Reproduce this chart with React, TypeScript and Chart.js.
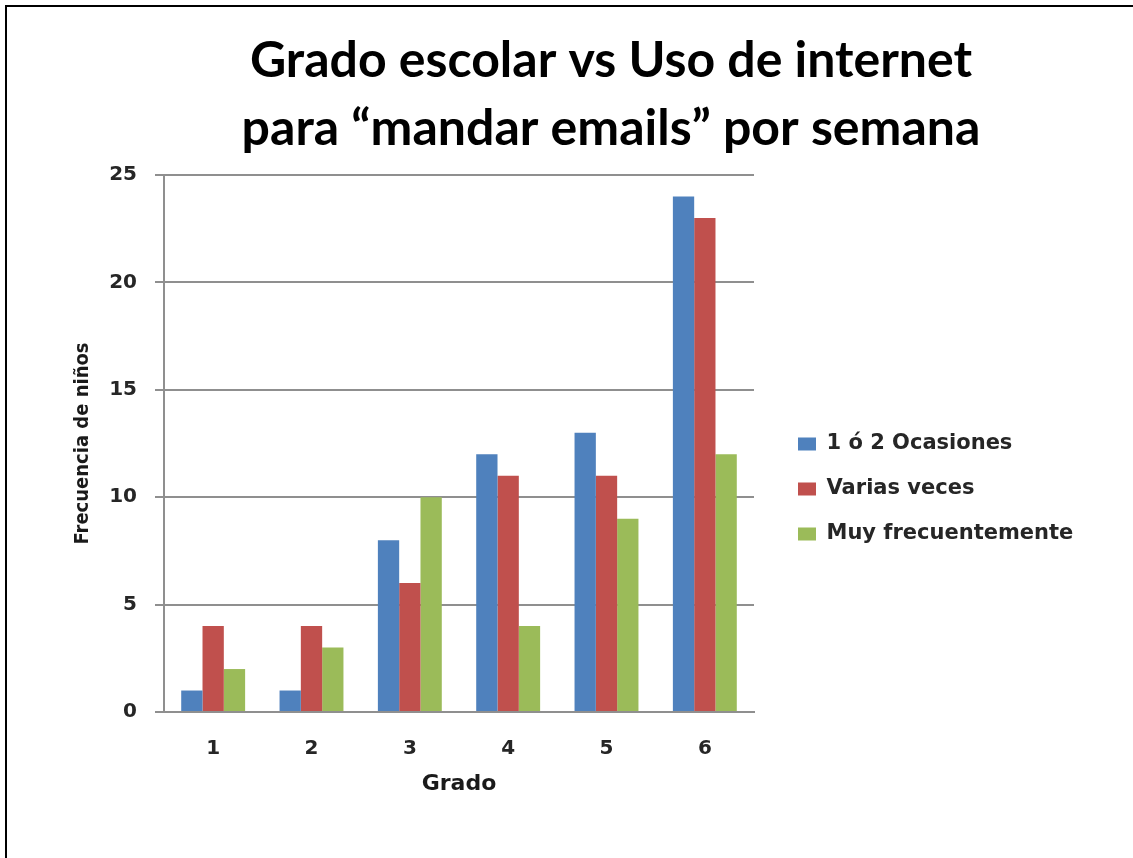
import React, { useEffect, useRef } from "react";
import { Chart, registerables } from "chart.js";

Chart.register(...registerables);

const categories = ["1", "2", "3", "4", "5", "6"];
const seriesNames = ["1 ó 2 Ocasiones", "Varias veces", "Muy frecuentemente"];
const ocasiones = [1, 1, 8, 12, 13, 24];
const variasVeces = [4, 4, 6, 11, 11, 23];
const muyFrecuente = [2, 3, 10, 4, 9, 12];
const seriesColors = ["#4F81BD", "#C0504D", "#9BBB59"];
const titleLines = ["Grado escolar vs Uso de internet", "para “mandar emails” por semana"];
const yTitle = "Frecuencia de niños";
const xTitle = "Grado";
const yMin = 0;
const yMax = 25;
const yStep = 5;

const W = 1133;
const H = 858;
const PLOT_RIGHT = 754;
const LEGEND_GAP = 20;
const LEGEND_FONT = { family: "'DejaVu Sans'", size: 21, weight: "bold" };
const LEGEND_BOX_W = 18;
const LEGEND_PAD = 24;

const titlePlugin = {
  id: "slideTitle",
  afterDraw(chart: any) {
    const ctx = chart.ctx;
    ctx.save();
    ctx.fillStyle = "#000";
    ctx.font = "bold 50px Lato";
    ctx.textAlign = "center";
    ctx.textBaseline = "alphabetic";
    ctx.fillText(titleLines[0], 611, 77);
    ctx.fillText(titleLines[1], 611, 145);
    ctx.restore();
  },
};

const bgPlugin = {
  id: "whiteBg",
  beforeDraw(chart: any) {
    const ctx = chart.ctx;
    ctx.save();
    ctx.fillStyle = "#fff";
    ctx.fillRect(0, 0, chart.width, chart.height);
    ctx.restore();
  },
};

export default function App() {
  const ref = useRef<HTMLCanvasElement | null>(null);

  useEffect(() => {
    if (!ref.current) return;
    const gridColor = "#8f8f8f";
    const textColor = "#262626";
    const chart = new Chart(ref.current, {
      type: "bar",
      data: {
        labels: categories,
        datasets: [
          { label: seriesNames[0], data: ocasiones, backgroundColor: seriesColors[0], yAxisID: "y" },
          { label: seriesNames[1], data: variasVeces, backgroundColor: seriesColors[1], yAxisID: "y" },
          { label: seriesNames[2], data: muyFrecuente, backgroundColor: seriesColors[2], yAxisID: "y" },
        ],
      },
      options: {
        responsive: false,
        devicePixelRatio: 1,
        animation: false,
        layout: {
          padding: (c: any) => {
            const ctx = c.chart.ctx;
            ctx.save();
            ctx.font = `${LEGEND_FONT.weight} ${LEGEND_FONT.size}px ${LEGEND_FONT.family}`;
            const tw = Math.max(...seriesNames.map((n) => ctx.measureText(n).width));
            ctx.restore();
            const legendW = LEGEND_PAD + LEGEND_BOX_W + LEGEND_FONT.size / 2 + tw + 10;
            return { top: 175, bottom: 55, left: 0, right: Math.max(0, W - PLOT_RIGHT - LEGEND_GAP - legendW) };
          },
        },
        datasets: {
          bar: { categoryPercentage: 0.65, barPercentage: 1.0, borderWidth: 0 },
        },
        plugins: {
          title: { display: false },
          tooltip: { enabled: false },
          legend: {
            display: true,
            position: "right",
            align: "center",
            maxWidth: 500,
            labels: {
              boxWidth: LEGEND_BOX_W,
              boxHeight: 13,
              padding: LEGEND_PAD,
              color: textColor,
              font: LEGEND_FONT,
            },
          },
        },
        scales: {
          x: {
            grid: { display: false },
            border: { display: true, color: gridColor, width: 2 },
            ticks: {
              color: textColor,
              padding: 17,
              font: { family: "'DejaVu Sans'", size: 20, weight: "bold" },
            },
            title: {
              display: true,
              text: xTitle,
              color: "#1a1a1a",
              font: { family: "'DejaVu Sans'", size: 22, weight: "bold" },
              padding: { top: 0, bottom: 6 },
            },
            afterFit: (s: any) => {
              s.height = 91;
            },
          },
          y: {
            position: "left",
            min: yMin,
            max: yMax,
            grid: { display: true, color: gridColor, lineWidth: 2, drawTicks: true, tickLength: 9 },
            border: { display: true, color: gridColor, width: 2 },
            ticks: {
              stepSize: yStep,
              color: textColor,
              padding: 18,
              font: { family: "'DejaVu Sans'", size: 20, weight: "bold" },
            },
            title: {
              display: true,
              text: yTitle,
              color: "#1a1a1a",
              font: { family: "'DejaVu Sans Condensed'", size: 20, weight: "bold" },
              padding: { top: 71, bottom: 0 },
            },
            afterFit: (s: any) => {
              s.width = 164;
            },
          },
          legendGap: {
            type: "linear",
            position: "right",
            display: true,
            grid: { display: false },
            border: { display: false },
            ticks: { display: false },
            title: { display: false },
            afterFit: (s: any) => {
              s.width = LEGEND_GAP;
            },
          },
        },
      },
      plugins: [bgPlugin, titlePlugin],
    } as any);
    return () => chart.destroy();
  }, []);

  return (
    <div style={{ position: "absolute", left: 0, top: 0, width: W, height: H, background: "#fff", overflow: "hidden" }}>
      <canvas ref={ref} width={W} height={H} style={{ display: "block", width: W, height: H }} />
      <div
        style={{
          position: "absolute",
          left: 5,
          top: 5,
          width: W - 5,
          height: H - 5,
          boxSizing: "border-box",
          borderTop: "2px solid #000",
          borderLeft: "2px solid #000",
          pointerEvents: "none",
        }}
      />
    </div>
  );
}
